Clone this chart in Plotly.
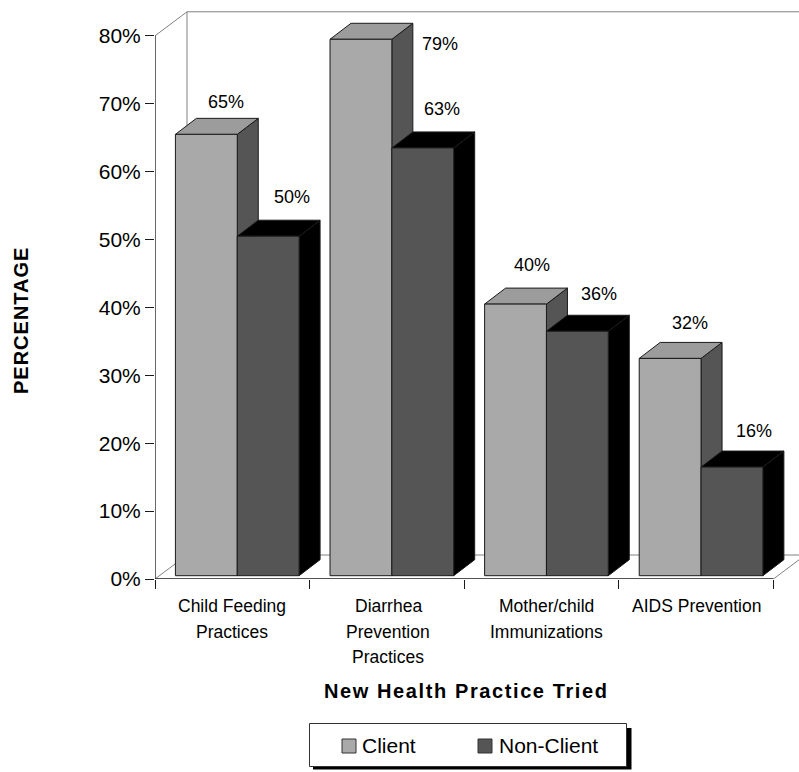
import plotly.graph_objects as go

# Survey results: share of respondents who tried each new health practice
categories = [
    ["Child Feeding", "Practices"],
    ["Diarrhea", "Prevention", "Practices"],
    ["Mother/child", "Immunizations"],
    ["AIDS Prevention"],
]
client = [65, 79, 40, 32]
non_client = [50, 63, 36, 16]
series_names = ["Client", "Non-Client"]
y_ticks = [0, 10, 20, 30, 40, 50, 60, 70, 80]
y_tick_labels = ["0%", "10%", "20%", "30%", "40%", "50%", "60%", "70%", "80%"]

# Canvas geometry (pixels)
W, H = 799, 772
LEFT, FLOOR, TOP = 155, 579, 8
PX_X = 154.6   # pixels per category
PX_Y = 6.79    # pixels per percentage point
xmax = (W - LEFT) / PX_X
ymax = (FLOOR - TOP) / PX_Y

# Pseudo-3D offsets in axis units
BASE = 3.3 / PX_Y
BAR_DX, BAR_DY = 21 / PX_X, 16 / PX_Y
WALL_DX, WALL_DY = 32 / PX_X, 24 / PX_Y
BAR_START, BAR_W = 0.132, 0.40

C_FRONT, C_TOP, C_SIDE = "#a9a9a9", "#9c9c9c", "#555555"
N_FRONT, N_TOP, N_SIDE = "#555555", "#000000", "#000000"
EDGE, WALL = "#1a1a1a", "#808080"


def px_x(px):
    return (px - LEFT) / (W - LEFT)


def px_y(px):
    return (FLOOR - px) / (FLOOR - TOP)


fig = go.Figure()


def poly(xs, ys, fill, edge=EDGE):
    fig.add_trace(go.Scatter(
        x=xs + xs[:1], y=ys + ys[:1], mode="lines", fill="toself",
        fillcolor=fill, line=dict(color=edge, width=1),
        showlegend=False, hoverinfo="skip"))


def line(xs, ys, color=WALL, width=1, clip=True):
    fig.add_trace(go.Scatter(
        x=xs, y=ys, mode="lines", line=dict(color=color, width=width),
        cliponaxis=clip, showlegend=False, hoverinfo="skip"))


def box(x0, value, front, top, side, edge=EDGE):
    x1 = x0 + BAR_W
    y1 = BASE + value
    poly([x1, x1 + BAR_DX, x1 + BAR_DX, x1],
         [BASE, BASE + BAR_DY, y1 + BAR_DY, y1], side, edge)
    poly([x0, x0 + BAR_DX, x1 + BAR_DX, x1],
         [y1, y1 + BAR_DY, y1 + BAR_DY, y1], top, edge)
    poly([x0, x1, x1, x0], [BASE, BASE, y1, y1], front, edge)


# Back wall and floor outline
line([0, WALL_DX, xmax], [80, 80 + WALL_DY, 80 + WALL_DY])
line([WALL_DX, WALL_DX], [80 + WALL_DY, WALL_DY])
line([0, WALL_DX, xmax], [0, WALL_DY, WALL_DY])
line([4, 4 + WALL_DX], [0, WALL_DY])

# Bars, painted back to front within each group
for i, (c, n) in enumerate(zip(client, non_client)):
    start = i + BAR_START
    box(start, c, C_FRONT, C_TOP, C_SIDE)
    box(start + BAR_W, n, N_FRONT, N_TOP, N_SIDE)

# Axis lines
line([0, 0], [0, 80], EDGE, 1.3, False)
line([0, 4], [0, 0], EDGE, 1.3, False)

annotations = []

# Value labels, nudged in pixels from each bar's top-left corner
client_nudge = [(51, 32), (110, -5), (47, 39), (51, 35)]
non_client_nudge = [(55, 39), (50, 39), (53, 37), (53, 36)]
for i in range(4):
    start = i + BAR_START
    for x0, v, (dx, dy) in ((start, client[i], client_nudge[i]),
                            (start + BAR_W, non_client[i], non_client_nudge[i])):
        annotations.append(dict(
            x=x0, y=BASE + v, xref="x", yref="y", text=f"{v}%", showarrow=False,
            xshift=dx, yshift=dy, xanchor="center", yanchor="middle",
            font=dict(size=18, color="#000000")))

# Category labels, one annotation per line for the wide line spacing
label_centres = [0.5, 1.51, 2.53, 3.5]
for centre, lines in zip(label_centres, categories):
    for j, text in enumerate(lines):
        annotations.append(dict(
            x=centre, y=px_y(606 + j * 25.5), xref="x", yref="paper",
            text=text, showarrow=False, xanchor="center", yanchor="middle",
            font=dict(size=17.5, color="#000000")))

# Axis titles
annotations.append(dict(
    x=px_x(466), y=px_y(691), xref="paper", yref="paper",
    text='<b><span style="letter-spacing:1.6px">New Health Practice Tried</span></b>',
    showarrow=False, xanchor="center", yanchor="middle",
    font=dict(size=20, color="#000000")))
annotations.append(dict(
    x=px_x(21), y=px_y(321), xref="paper", yref="paper",
    text='<b><span style="letter-spacing:1px">PERCENTAGE</span></b>',
    showarrow=False, textangle=-90, xanchor="center", yanchor="middle",
    font=dict(size=20, color="#000000")))

# Boxed key with a drop shadow
shapes = [
    dict(type="rect", xref="paper", yref="paper",
         x0=px_x(313), x1=px_x(631.5), y0=px_y(769.5), y1=px_y(728),
         fillcolor="#000000", line=dict(width=0)),
    dict(type="rect", xref="paper", yref="paper",
         x0=px_x(309.5), x1=px_x(626.5), y0=px_y(766.5), y1=px_y(723.5),
         fillcolor="#ffffff", line=dict(color="#333333", width=1)),
]
key_swatch_px = [342, 478]
key_text_px = [361, 498]
key_colours = [C_FRONT, N_FRONT]
for name, sx, tx, colour in zip(series_names, key_swatch_px, key_text_px, key_colours):
    shapes.append(dict(
        type="rect", xref="paper", yref="paper",
        x0=px_x(sx), x1=px_x(sx + 14), y0=px_y(753), y1=px_y(739),
        fillcolor=colour, line=dict(color="#333333", width=1)))
    annotations.append(dict(
        x=px_x(tx), y=px_y(745.5), xref="paper", yref="paper", text=name,
        showarrow=False, xanchor="left", yanchor="middle",
        borderpad=0, font=dict(size=21, color="#000000")))

fig.update_layout(
    width=W, height=H,
    margin=dict(l=LEFT, r=0, t=TOP, b=H - FLOOR, pad=0),
    paper_bgcolor="white", plot_bgcolor="white",
    showlegend=False,
    font=dict(family="Liberation Sans, Arial, sans-serif", color="#000000"),
    annotations=annotations,
    shapes=shapes,
    xaxis=dict(range=[0, xmax], tickvals=[0, 1, 2, 3, 4], showticklabels=False,
               ticks="outside", ticklen=9, tickwidth=1.3, tickcolor=EDGE,
               showgrid=False, zeroline=False, showline=False),
    yaxis=dict(range=[0, ymax], tickvals=y_ticks, ticktext=y_tick_labels,
               ticks="outside", ticklen=9, tickwidth=1.3, tickcolor=EDGE,
               tickfont=dict(size=21, color="#000000"),
               showgrid=False, zeroline=False, showline=False),
)

fig.write_html("out.html", config={"displayModeBar": False})
